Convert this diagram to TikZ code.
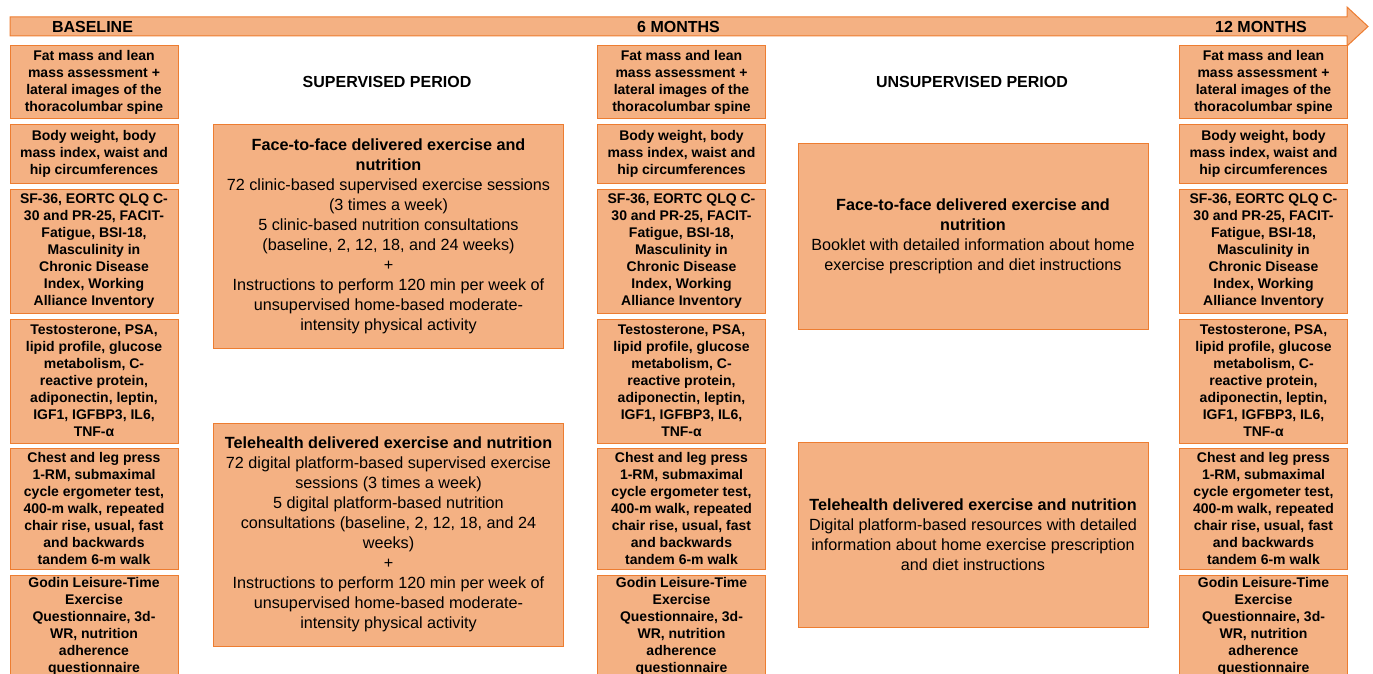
\documentclass[tikz,border=0pt]{standalone}
\usepackage{fontspec}
\setmainfont{Liberation Sans}
\usetikzlibrary{positioning}
\definecolor{boxfill}{HTML}{F4B183}
\definecolor{boxline}{HTML}{ED7D31}

\begin{document}
\begin{tikzpicture}
  [x=1pt,y=-1pt,
   basicbox/.style={draw=boxline,line width=1pt,fill=boxfill,rectangle,inner sep=0pt,align=center},
   measurebox/.style={basicbox,minimum width=168pt,font=\bfseries\fontsize{14}{17}\selectfont},
   periodbox/.style={basicbox,minimum width=350pt,font=\fontsize{16.2}{20}\selectfont},
   heading/.style={inner sep=0pt,font=\bfseries\fontsize{16}{19}\selectfont}]
  \useasboundingbox (0,0) rectangle (1373,674);
  % time line
  \draw [line width=1pt,draw=boxline,fill=boxfill] (10,17) -- (1347,17) -- (1347,7) -- (1368,26.5)
    -- (1347,46) -- (1347,36) -- (10,36) -- cycle;
  \node (baseline) at (92.5,26.5) [heading] {BASELINE};
  \node (sixmonths) at (678.5,26.5) [heading] {6 MONTHS};
  \node (twelvemonths) at (1261,26.5) [heading] {12 MONTHS};
  % assessments at each time point
  \foreach \col/\x in {0/94,1/681.5,2/1263.5} {
    \node (fat\col) at (\x,82.5) [measurebox,minimum height=73pt] {Fat mass and lean\\mass assessment +\\lateral images of the\\thoracolumbar spine};
    \node (body\col) [measurebox,minimum height=58pt,below=5pt of fat\col] {Body weight, body\\mass index, waist and\\hip circumferences};
    \node (quest\col) [measurebox,minimum height=124pt,below=5pt of body\col] {SF-36, EORTC QLQ C-\\30 and PR-25, FACIT-\\Fatigue, BSI-18,\\Masculinity in\\Chronic Disease\\Index, Working\\Alliance Inventory};
    \node (blood\col) [measurebox,minimum height=124pt,below=5pt of quest\col] {Testosterone, PSA,\\lipid profile, glucose\\metabolism, C-\\reactive protein,\\adiponectin, leptin,\\IGF1, IGFBP3, IL6,\\TNF-α};
    \node (fitness\col) [measurebox,minimum height=121pt,below=4pt of blood\col] {Chest and leg press\\1-RM, submaximal\\cycle ergometer test,\\400-m walk, repeated\\chair rise, usual, fast\\and backwards\\tandem 6-m walk};
    \node (activity\col) [measurebox,minimum height=103pt,below=5pt of fitness\col] {Godin Leisure-Time\\Exercise\\Questionnaire, 3d-\\WR, nutrition\\adherence\\questionnaire};
  }
  % periods
  \node (supervised) at (387,82) [heading] {SUPERVISED PERIOD};
  \node (unsupervised) at (972,82) [heading] {UNSUPERVISED PERIOD};
  \node (supface) at (388.5,236.5) [periodbox,minimum height=223pt] {\textbf{Face-to-face delivered exercise and}\\\textbf{nutrition}\\72 clinic-based supervised exercise sessions\\(3 times a week)\\5 clinic-based nutrition consultations\\(baseline, 2, 12, 18, and 24 weeks)\\+\\Instructions to perform 120 min per week of\\unsupervised home-based moderate-\\intensity physical activity};
  \node (suptele) [periodbox,minimum height=223pt,below=74pt of supface] {\textbf{Telehealth delivered exercise and nutrition}\\72 digital platform-based supervised exercise\\sessions (3 times a week)\\5 digital platform-based nutrition\\consultations (baseline, 2, 12, 18, and 24\\weeks)\\+\\Instructions to perform 120 min per week of\\unsupervised home-based moderate-\\intensity physical activity};
  \node (unsface) at (973,236.5) [periodbox,minimum height=185pt] {\textbf{Face-to-face delivered exercise and}\\\textbf{nutrition}\\Booklet with detailed information about home\\exercise prescription and diet instructions};
  \node (unstele) at (973,534.5) [periodbox,minimum height=185pt] {\textbf{Telehealth delivered exercise and nutrition}\\Digital platform-based resources with detailed\\information about home exercise prescription\\and diet instructions};
\end{tikzpicture}
\end{document}
